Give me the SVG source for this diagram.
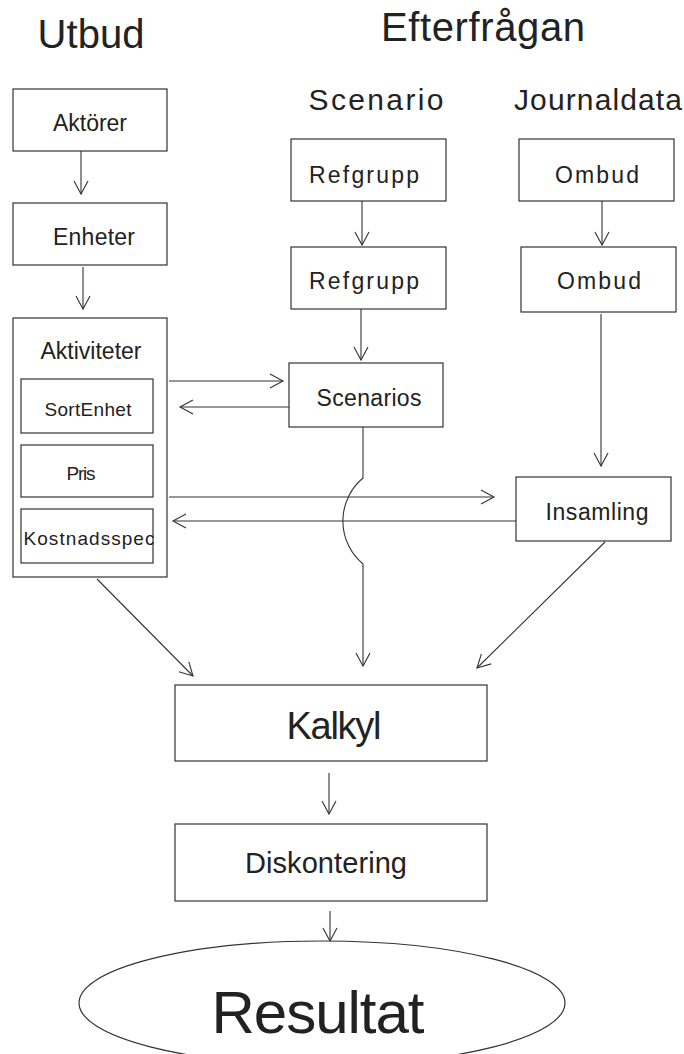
<svg xmlns="http://www.w3.org/2000/svg" width="684" height="1054" viewBox="0 0 684 1054">
<style>
text{font-family:"Liberation Sans",Arial,sans-serif;fill:#222;text-anchor:middle}
.box{fill:#fff;stroke:#333;stroke-width:1.2}
.c{fill:none;stroke:#333;stroke-width:1.1}
.h1{font-size:40px}
.h2{font-size:30px}
.n{font-size:23px}
.s{font-size:19px}
</style>
<defs>
<marker id="a" markerUnits="userSpaceOnUse" markerWidth="16" markerHeight="16" viewBox="-14 -8 16 16" refX="0" refY="0" orient="auto">
<path d="M-13,-7 L0,0 L-13,7" fill="none" stroke="#333" stroke-width="1.1"/>
</marker>
</defs>
<g id="headers">
<text class="h1" x="91" y="48" textLength="107">Utbud</text>
<text class="h1" x="483" y="41" textLength="204">Efterfrågan</text>
<text class="h2" x="376" y="110" textLength="135">Scenario</text>
<text class="h2" x="598" y="110" textLength="168">Journaldata</text>
</g>
<g id="connectors">
<path class="c" d="M81,151 V194" marker-end="url(#a)"/>
<path class="c" d="M83,267 V309" marker-end="url(#a)"/>
<path class="c" d="M362,201 V245" marker-end="url(#a)"/>
<path class="c" d="M361,309 V360" marker-end="url(#a)"/>
<path class="c" d="M602,201 V245" marker-end="url(#a)"/>
<path class="c" d="M601,314 V466" marker-end="url(#a)"/>
<path class="c" d="M169,381 H283" marker-end="url(#a)"/>
<path class="c" d="M289,407 H180" marker-end="url(#a)"/>
<path class="c" d="M169,497 H494" marker-end="url(#a)"/>
<path class="c" d="M516,521 H173" marker-end="url(#a)"/>
<path class="c" d="M363,427 V478 A56,56 0 0 0 363,564 V666" marker-end="url(#a)"/>
<path class="c" d="M97,579 L193,676" marker-end="url(#a)"/>
<path class="c" d="M605,542 L477,668" marker-end="url(#a)"/>
<path class="c" d="M329,773 V814" marker-end="url(#a)"/>
<path class="c" d="M330,911 V941" marker-end="url(#a)"/>
</g>
<g id="aktorer">
<rect class="box" x="13" y="89" width="154" height="62"/>
<text class="n" x="90" y="131" textLength="74">Aktörer</text>
</g>
<g id="enheter">
<rect class="box" x="13" y="203" width="154" height="62"/>
<text class="n" x="94" y="245" textLength="82">Enheter</text>
</g>
<g id="aktiviteter">
<rect class="box" x="13" y="318" width="154" height="259"/>
<text class="n" x="91" y="359" textLength="101">Aktiviteter</text>
<g id="sortenhet">
<rect class="box" x="21" y="379" width="132" height="54"/>
<text class="s" x="88" y="416" textLength="87">SortEnhet</text>
</g>
<g id="pris">
<rect class="box" x="21" y="445" width="132" height="52"/>
<text class="s" x="81" y="480" textLength="29">Pris</text>
</g>
<g id="kostnadsspec">
<rect class="box" x="21" y="509" width="132" height="54"/>
<text class="s" x="89" y="545" textLength="131">Kostnadsspec</text>
</g>
</g>
<g id="refgrupp1">
<rect class="box" x="291" y="139" width="155" height="62"/>
<text class="n" x="364" y="183" textLength="110">Refgrupp</text>
</g>
<g id="refgrupp2">
<rect class="box" x="291" y="247" width="155" height="62"/>
<text class="n" x="364" y="289" textLength="110">Refgrupp</text>
</g>
<g id="ombud1">
<rect class="box" x="519" y="139" width="155" height="62"/>
<text class="n" x="597" y="183" textLength="84">Ombud</text>
</g>
<g id="ombud2">
<rect class="box" x="521" y="247" width="155" height="65"/>
<text class="n" x="599" y="289" textLength="84">Ombud</text>
</g>
<g id="scenarios">
<rect class="box" x="289" y="363" width="154" height="64"/>
<text class="n" x="369" y="406" textLength="105">Scenarios</text>
</g>
<g id="insamling">
<rect class="box" x="516" y="477" width="155" height="64"/>
<text class="n" x="597" y="520" textLength="103">Insamling</text>
</g>
<g id="kalkyl">
<rect class="box" x="175" y="685" width="312" height="76"/>
<text x="334" y="739" font-size="38" textLength="95">Kalkyl</text>
</g>
<g id="diskontering">
<rect class="box" x="175" y="824" width="312" height="77"/>
<text x="326" y="873" font-size="29" textLength="162">Diskontering</text>
</g>
<g id="resultat">
<ellipse class="box" cx="322" cy="1003" rx="243" ry="62"/>
<text x="318" y="1033" font-size="60" textLength="213">Resultat</text>
</g>
</svg>
